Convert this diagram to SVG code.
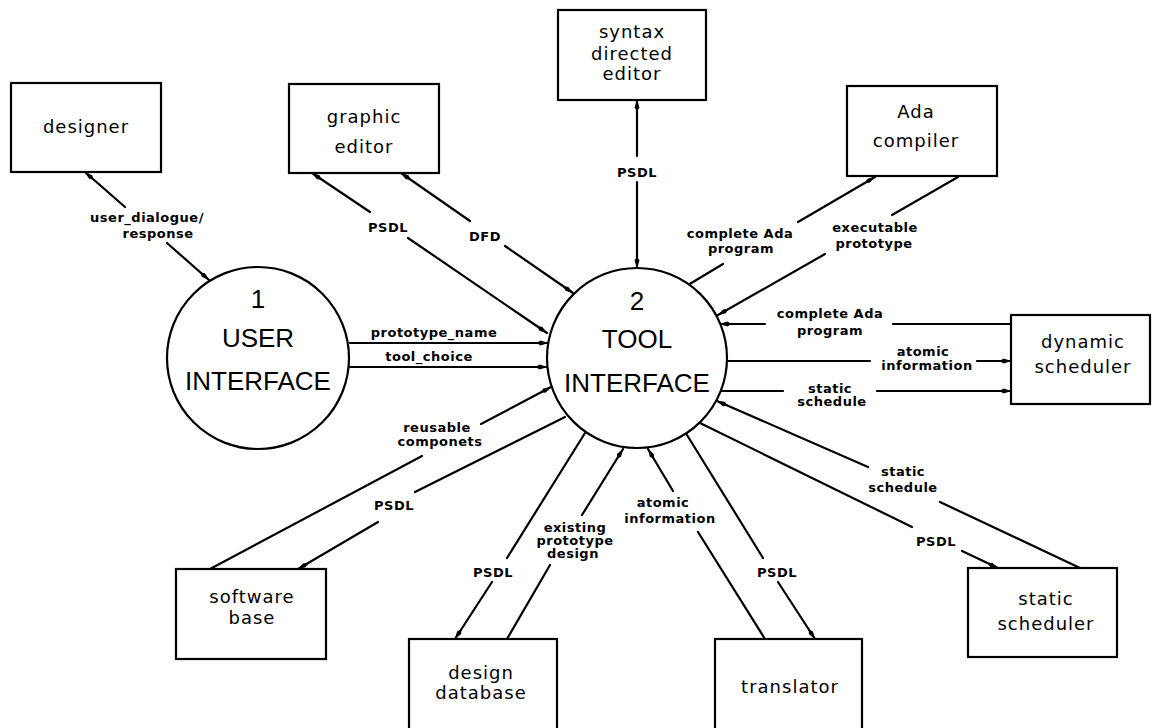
<svg xmlns="http://www.w3.org/2000/svg" width="1152" height="728" viewBox="0 0 1152 728">
  <style>
    .box { fill: #fff; stroke: #000; stroke-width: 2.2; }
    .proc { fill: #fff; stroke: #000; stroke-width: 2.2; }
    .flow { fill: none; stroke: #000; stroke-width: 2.2; stroke-linecap: round; }
    .bi { marker-start: url(#head); marker-end: url(#head); }
    .uni { marker-end: url(#head); }
    .name { font-family: "DejaVu Sans", "Liberation Sans", sans-serif; font-size: 18px; letter-spacing: 1px; text-anchor: middle; fill: #000; }
    .ptext { font-family: "Liberation Sans", "DejaVu Sans", sans-serif; font-size: 26px; text-anchor: middle; fill: #000; }
    .lbl { font-family: "DejaVu Sans", "Liberation Sans", sans-serif; font-size: 13px; font-weight: bold; letter-spacing: 0.5px; text-anchor: middle; fill: #000; }
  </style>
  <defs>
    <marker id="head" viewBox="0 0 12 6" refX="11.5" refY="3" markerWidth="12" markerHeight="6" markerUnits="userSpaceOnUse" orient="auto-start-reverse">
      <path d="M0,3 L4,0.6 L12,3 L4,5.4 Z" fill="#000"/>
    </marker>
  </defs>
  <rect width="1152" height="728" fill="#fff"/>

  <!-- data flows -->
  <g id="flows">
    <path class="flow bi" d="M85,172 L125,207 M167,243 L209,280"/>
    <path class="flow bi" d="M312,173 L370,212 M408,238 L547,333"/>
    <path class="flow bi" d="M401,173 L470,221 M505,246 L573,293"/>
    <path class="flow bi" d="M637,100 L637,156 M637,182 L637,268"/>
    <path class="flow uni" d="M688,285 L723,264 M798,222 L875,177"/>
    <path class="flow uni" d="M958,177 L892,215 M825,254 L718,315"/>
    <path class="flow uni" d="M1011,324 L893,324 M765,324 L720,324"/>
    <path class="flow uni" d="M728,361 L870,361 M977,361 L1011,361"/>
    <path class="flow uni" d="M721,391 L783,391 M877,391 L1011,391"/>
    <path class="flow uni" d="M1080,568 L940,502 M868,467 L717,401"/>
    <path class="flow uni" d="M700,423 L912,527 M962,551 L998,568"/>
    <path class="flow uni" d="M765,639 L698,532 M673,491 L648,449"/>
    <path class="flow uni" d="M687,435 L763,558 M778,582 L815,639"/>
    <path class="flow uni" d="M585,433 L507,558 M492,582 L455,639"/>
    <path class="flow uni" d="M507,639 L550,565 M582,515 L623,449"/>
    <path class="flow uni" d="M210,569 L422,456 M481,424 L551,387"/>
    <path class="flow uni" d="M565,417 L415,492 M378,522 L298,569"/>
    <path class="flow uni" d="M350,343 L548,343"/>
    <path class="flow uni" d="M350,367 L547,367"/>

    <text class="lbl" x="147" y="222">user_dialogue/</text>
    <text class="lbl" x="158" y="238">response</text>
    <text class="lbl" x="388" y="232">PSDL</text>
    <text class="lbl" x="485" y="241">DFD</text>
    <text class="lbl" x="637" y="177">PSDL</text>
    <text class="lbl" x="740" y="238">complete Ada</text>
    <text class="lbl" x="741" y="253">program</text>
    <text class="lbl" x="875" y="232">executable</text>
    <text class="lbl" x="874" y="248">prototype</text>
    <text class="lbl" x="830" y="318">complete Ada</text>
    <text class="lbl" x="830" y="335">program</text>
    <text class="lbl" x="923" y="356">atomic</text>
    <text class="lbl" x="927" y="370">information</text>
    <text class="lbl" x="830" y="393">static</text>
    <text class="lbl" x="832" y="406">schedule</text>
    <text class="lbl" x="903" y="476">static</text>
    <text class="lbl" x="903" y="492">schedule</text>
    <text class="lbl" x="936" y="546">PSDL</text>
    <text class="lbl" x="663" y="507">atomic</text>
    <text class="lbl" x="670" y="523">information</text>
    <text class="lbl" x="777" y="577">PSDL</text>
    <text class="lbl" x="493" y="577">PSDL</text>
    <text class="lbl" x="575" y="532">existing</text>
    <text class="lbl" x="575" y="545">prototype</text>
    <text class="lbl" x="573" y="558">design</text>
    <text class="lbl" x="437" y="432">reusable</text>
    <text class="lbl" x="440" y="446">componets</text>
    <text class="lbl" x="394" y="510">PSDL</text>
    <text class="lbl" x="434" y="337">prototype_name</text>
    <text class="lbl" x="429" y="361">tool_choice</text>
  </g>

  <!-- processes -->
  <g id="user-interface">
    <circle class="proc" cx="258" cy="358" r="91"/>
    <text class="ptext" x="258" y="308">1</text>
    <text class="ptext" x="258" y="347">USER</text>
    <text class="ptext" x="258" y="390">INTERFACE</text>
  </g>
  <g id="tool-interface">
    <circle class="proc" cx="637" cy="358" r="90"/>
    <text class="ptext" x="637" y="310">2</text>
    <text class="ptext" x="637" y="348">TOOL</text>
    <text class="ptext" x="637" y="392">INTERFACE</text>
  </g>

  <!-- external entities -->
  <g id="designer">
    <rect class="box" x="11" y="83" width="150" height="89"/>
    <text class="name" x="86" y="133">designer</text>
  </g>
  <g id="graphic-editor">
    <rect class="box" x="289" y="84" width="150" height="89"/>
    <text class="name" x="364" y="123">graphic</text>
    <text class="name" x="364" y="153">editor</text>
  </g>
  <g id="syntax-directed-editor">
    <rect class="box" x="558" y="10" width="148" height="90"/>
    <text class="name" x="632" y="38">syntax</text>
    <text class="name" x="632" y="60">directed</text>
    <text class="name" x="632" y="80">editor</text>
  </g>
  <g id="ada-compiler">
    <rect class="box" x="847" y="86" width="150" height="90"/>
    <text class="name" x="916" y="118">Ada</text>
    <text class="name" x="916" y="147">compiler</text>
  </g>
  <g id="dynamic-scheduler">
    <rect class="box" x="1011" y="315" width="139" height="89"/>
    <text class="name" x="1083" y="348">dynamic</text>
    <text class="name" x="1083" y="373">scheduler</text>
  </g>
  <g id="software-base">
    <rect class="box" x="176" y="569" width="150" height="90"/>
    <text class="name" x="252" y="603">software</text>
    <text class="name" x="252" y="624">base</text>
  </g>
  <g id="design-database">
    <rect class="box" x="409" y="639" width="148" height="100"/>
    <text class="name" x="481" y="679">design</text>
    <text class="name" x="481" y="699">database</text>
  </g>
  <g id="translator">
    <rect class="box" x="715" y="639" width="147" height="100"/>
    <text class="name" x="790" y="693">translator</text>
  </g>
  <g id="static-scheduler">
    <rect class="box" x="968" y="568" width="149" height="89"/>
    <text class="name" x="1046" y="605">static</text>
    <text class="name" x="1046" y="630">scheduler</text>
  </g>
</svg>
